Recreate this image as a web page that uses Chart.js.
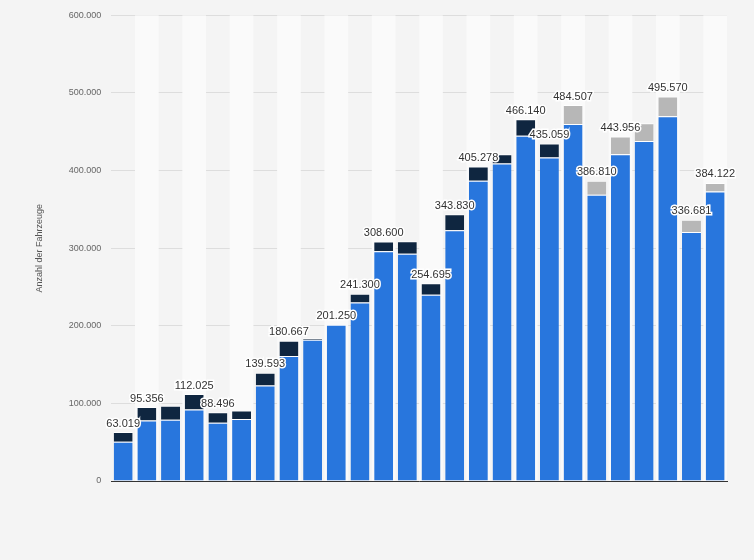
<!DOCTYPE html><html><head><meta charset="utf-8">
<script src="https://cdn.jsdelivr.net/npm/chart.js@4"></script>
<style>html,body{margin:0;background:#f4f4f4}#w{width:754px;height:560px}</style></head><body><div id="w"><canvas id="c"></canvas></div>
<script>
const categories=['1','2','3','4','5','6','7','8','9','10','11','12','13','14','15','16','17','18','19','20','21','22','23','24','25','26'];
const blueValues=[50600,78000,79000,92000,75000,80000,123000,161000,182000,201250,230000,296000,293000,240000,323000,387000,409000,445000,417000,460000,369000,421000,438000,470000,321000,373000];
const darkValues=[12419,17356,18000,20025,13496,11000,16593,19667,2000,0,11300,12600,16000,14695,20830,18278,12000,21140,18059,0,0,0,0,0,0,0];
const grayValues=[0,0,0,0,0,0,0,0,0,0,0,0,0,0,0,0,0,0,0,24507,17810,22956,23000,25570,15681,11122];
const labelValues=[63019,95356,null,112025,88496,null,139593,180667,null,201250,241300,308600,null,254695,343830,405278,null,466140,435059,484507,386810,443956,null,495570,336681,384122];
const fmt=v=>v.toLocaleString('de-DE');
const stripes={id:'stripes',beforeDatasetsDraw(ch){const {ctx,chartArea:a,scales:{x}}=ch;ctx.save();const w=x.getPixelForValue(1)-x.getPixelForValue(0);for(let i=0;i<categories.length;i++){if(i%2==1){ctx.fillStyle='#fafafa';ctx.fillRect(x.getPixelForValue(i)-w/2,a.top,w,a.bottom-a.top);}}ctx.restore();}};
const labels={id:'labels',afterDatasetsDraw(ch){const {ctx,scales:{x,y}}=ch;ctx.save();ctx.font='11px "Liberation Sans",Arial';ctx.textAlign='center';ctx.textBaseline='bottom';labelValues.forEach((v,i)=>{if(v==null)return;const tot=blueValues[i]+darkValues[i]+grayValues[i];const px=x.getPixelForValue(i),py=y.getPixelForValue(tot)-3;ctx.lineWidth=3;ctx.strokeStyle='#fff';ctx.strokeText(fmt(v),px,py);ctx.fillStyle='#333';ctx.fillText(fmt(v),px,py);});ctx.restore();}};
const bw={top:1,left:0,right:0,bottom:0};
new Chart(document.getElementById('c'),{type:'bar',data:{labels:categories,datasets:[
{data:blueValues,backgroundColor:'#2876dd',borderColor:'#fff',borderWidth:bw,borderSkipped:false},
{data:darkValues,backgroundColor:'#0f2640',borderColor:'#fff',borderWidth:bw,borderSkipped:false},
{data:grayValues,backgroundColor:'#b7b7b7',borderColor:'#fff',borderWidth:bw,borderSkipped:false}]},
options:{responsive:true,maintainAspectRatio:false,animation:false,datasets:{bar:{categoryPercentage:0.8,barPercentage:1}},
layout:{padding:{top:0,right:27,bottom:71,left:30}},
plugins:{legend:{display:false},tooltip:{enabled:false}},
scales:{x:{stacked:true,grid:{display:false},border:{color:'#333',width:1},ticks:{display:false}},
y:{stacked:true,min:0,max:600000,ticks:{stepSize:100000,callback:v=>fmt(v),color:'#666',font:{size:9},padding:10},grid:{color:'#ddd',borderDash:[2,2],drawTicks:false},border:{display:false},
title:{display:true,text:'Anzahl der Fahrzeuge',color:'#555',font:{size:9},padding:{bottom:14}}}}},plugins:[stripes,labels]});
</script></body></html>
